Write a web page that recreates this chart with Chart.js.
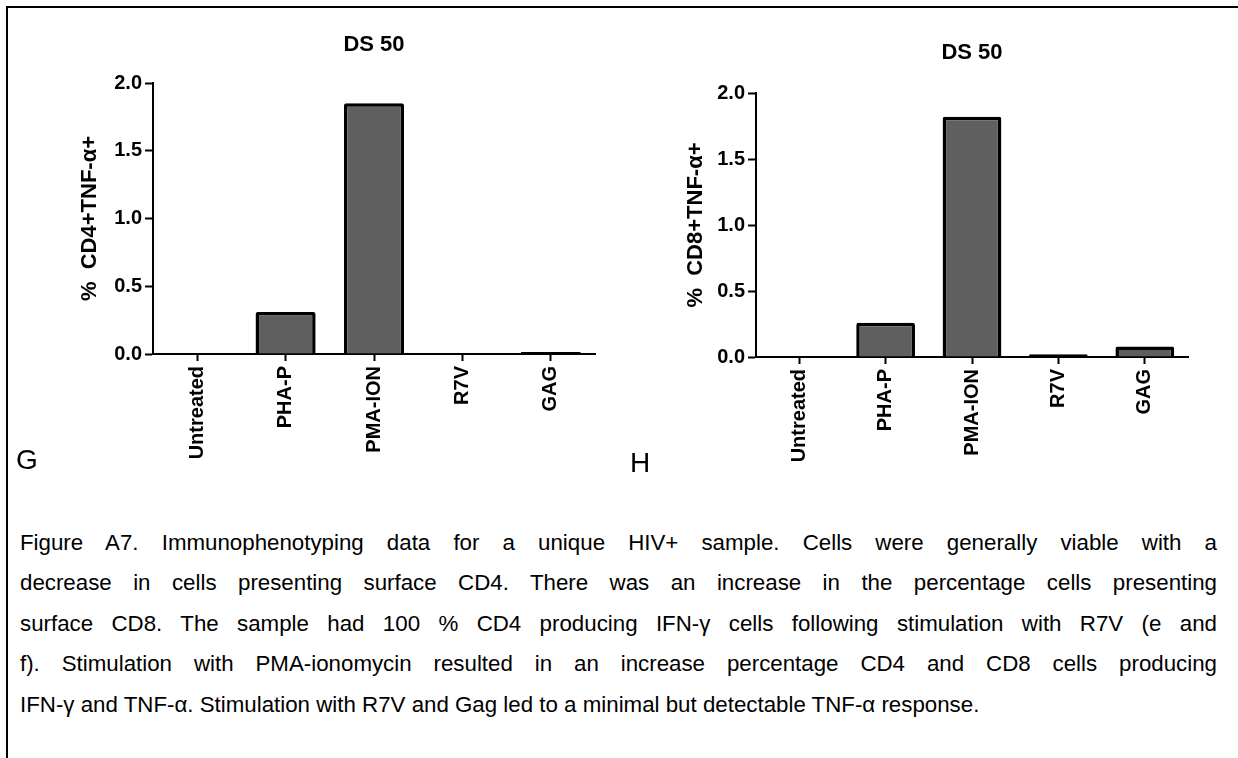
<!DOCTYPE html>
<html lang="en">
<head>
<meta charset="UTF-8">
<title>DS 50 - TNF-α</title>
<script src="https://cdn.jsdelivr.net/npm/chart.js"></script>
<style>
  body { margin: 0; background: #fff; color: #000; font-family: 'Liberation Sans', Arial, sans-serif; }
  #page { position: relative; width: 1238px; height: 758px; overflow: hidden; background: #fff; }
  .frame { position: absolute; left: 6px; top: 6px; width: 1300px; height: 800px;
    border-top: 2px solid #000; border-left: 2px solid #000; }
  .plot { position: absolute; }
  .panel { position: absolute; font-size: 28px; line-height: 32px; }
  .cap { position: absolute; left: 20px; width: 1197px; font-size: 22.3px; line-height: 26px;
    text-align: justify; text-align-last: justify; }
  .cap.last { text-align-last: left; }
</style>
</head>
<body>
<div id="page">
  <div class="frame"></div>
  <canvas id="chartCD4" class="plot" width="600" height="470" style="left:10px; top:10px;"></canvas>
  <canvas id="chartCD8" class="plot" width="600" height="470" style="left:620px; top:10px;"></canvas>
  <div class="panel" style="left:16px; top:444px;">G</div>
  <div class="panel" style="left:630px; top:447px;">H</div>

  <div class="cap" style="top:530px;">Figure A7. Immunophenotyping data for a unique HIV+ sample. Cells were generally viable with a</div>
  <div class="cap" style="top:570px;">decrease in cells presenting surface CD4. There was an increase in the percentage cells presenting</div>
  <div class="cap" style="top:611px;">surface CD8. The sample had 100 % CD4 producing IFN-γ cells following stimulation with R7V (e and</div>
  <div class="cap" style="top:651px;">f). Stimulation with PMA-ionomycin resulted in an increase percentage CD4 and CD8 cells producing</div>
  <div class="cap last" style="top:692px;">IFN-γ and TNF-α. Stimulation with R7V and Gag led to a minimal but detectable TNF-α response.</div>
</div>

<script>
const categories = ["Untreated", "PHA-P", "PMA-ION", "R7V", "GAG"];
const cd4Values = [0, 0.31, 1.85, 0, 0.015];
const cd8Values = [0.006, 0.26, 1.82, 0.02, 0.08];
const yTicks = [0.0, 0.5, 1.0, 1.5, 2.0];
const chartTitle = "DS 50";

const FONT = "'Liberation Sans', Arial, sans-serif";

function dibujar(id, valores, etiquetaY, lay) {
  const ctx = document.getElementById(id).getContext("2d");
  return new Chart(ctx, {
    type: "bar",
    data: {
      labels: categories,
      datasets: [{
        data: valores,
        backgroundColor: "#5f5f5f",
        borderColor: "#000",
        borderWidth: 3.5,
        borderRadius: 2,
        // barras casi nulas: borde completo para que se vean como raya negra
        borderSkipped: c => (c.raw < 0.05 ? false : "start"),
        categoryPercentage: 1,
        barPercentage: 0.68
      }]
    },
    options: {
      responsive: false,
      animation: false,
      devicePixelRatio: 1,
      layout: { padding: { left: 0, right: lay.padRight, top: 0, bottom: 0 } },
      plugins: {
        legend: { display: false },
        tooltip: { enabled: false },
        title: {
          display: true,
          text: chartTitle,
          fullSize: false,
          color: "#000",
          font: { family: FONT, size: 22, weight: "bold" },
          padding: { top: lay.titleTop, bottom: lay.titleBottom }
        }
      },
      scales: {
        x: {
          afterFit: s => { s.height = lay.xHeight; },
          grid: { offset: false, drawOnChartArea: false, drawTicks: true, tickLength: 7, tickWidth: 2, tickColor: "#000", color: "#000" },
          border: { display: true, color: "#000", width: 2 },
          ticks: { autoSkip: false, minRotation: 90, maxRotation: 90, padding: 5, color: "#000",
                   font: { family: FONT, size: 20, weight: "bold" } }
        },
        y: {
          min: 0, max: 2,
          afterFit: s => { s.width = lay.yWidth; },
          afterBuildTicks: s => { s.ticks = yTicks.map(v => ({ value: v })); },
          grid: { drawOnChartArea: false, drawTicks: true, tickLength: 8, tickWidth: 2, tickColor: "#000", color: "#000" },
          border: { display: true, color: "#000", width: 2 },
          ticks: { padding: 3, color: "#000", font: { family: FONT, size: 20, weight: "bold" },
                   callback: v => Number(v).toFixed(1) },
          title: { display: true, text: etiquetaY, color: "#000", padding: { top: lay.yTitlePad, bottom: 0 },
                   font: { family: FONT, size: 22, weight: "bold" } }
        }
      }
    }
  });
}

dibujar("chartCD4", cd4Values, "%  CD4+TNF-α+",
  { padRight: 15, titleTop: 22, titleBottom: 24.6, xHeight: 126, yWidth: 143, yTitlePad: 67 });
dibujar("chartCD8", cd8Values, "%  CD8+TNF-α+",
  { padRight: 32, titleTop: 30, titleBottom: 26.6, xHeight: 123, yWidth: 136, yTitlePad: 63 });
</script>
</body>
</html>
